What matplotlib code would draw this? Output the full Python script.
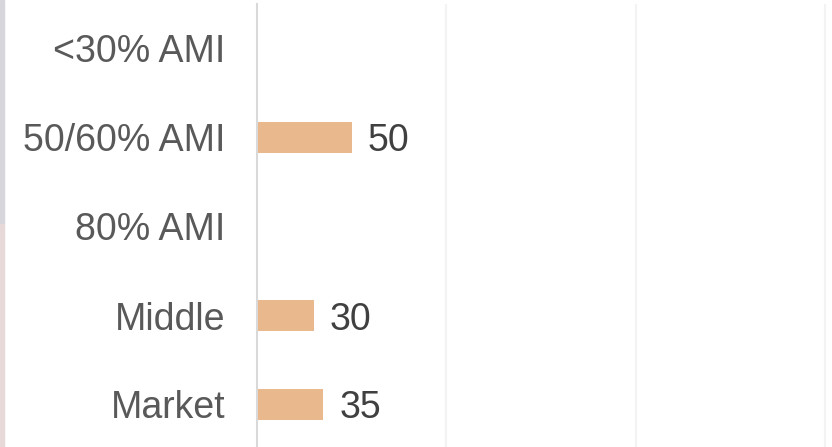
import matplotlib.pyplot as plt
from matplotlib.patches import Rectangle

categories = ["<30% AMI", "50/60% AMI", "80% AMI", "Middle", "Market"]
values = [0, 50, 0, 30, 35]
labels = ["", "50", "", "30", "35"]

BAR_COLOR = "#E9B88D"

plt.rcParams["font.family"] = ["Liberation Sans", "DejaVu Sans"]

fig = plt.figure(figsize=(8.32, 4.47), dpi=100)
ax = fig.add_axes([257 / 832, -2 / 447, 575 / 832, 445 / 447])

y = list(range(len(categories)))
ax.barh(y, values, height=0.35, color=BAR_COLOR, zorder=2)

for yi, v, lab in zip(y, values, labels):
    if lab:
        ax.annotate(lab, (v, yi), xytext=(16, 0), textcoords="offset pixels",
                    va="center_baseline", ha="left", fontsize=27, color="#404040")

ax.set_yticks(y)
ax.set_yticklabels(categories, fontsize=27, color="#595959",
                   va="center_baseline")
ax.set_ylim(len(categories) - 0.5, -0.5)
ax.set_xlim(0, 303.5)
ax.set_xticks([100, 200, 300])
ax.tick_params(axis="x", bottom=False, labelbottom=False)
ax.tick_params(axis="y", left=False, pad=19.5)
ax.grid(axis="x", color="#f3f3f3", linewidth=1.5, zorder=0)

for side in ["top", "right", "bottom"]:
    ax.spines[side].set_visible(False)
ax.spines["left"].set_color("#d9d9d9")
ax.spines["left"].set_linewidth(1.5)

# thin strip of the page background on the far left
fig.patches.append(Rectangle((0, 0.5), 4 / 832, 0.5, transform=fig.transFigure,
                             color="#d6d6dc", zorder=0))
fig.patches.append(Rectangle((0, 0), 4 / 832, 0.5, transform=fig.transFigure,
                             color="#e6d9d8", zorder=0))

fig.savefig("out.png", dpi=100)
